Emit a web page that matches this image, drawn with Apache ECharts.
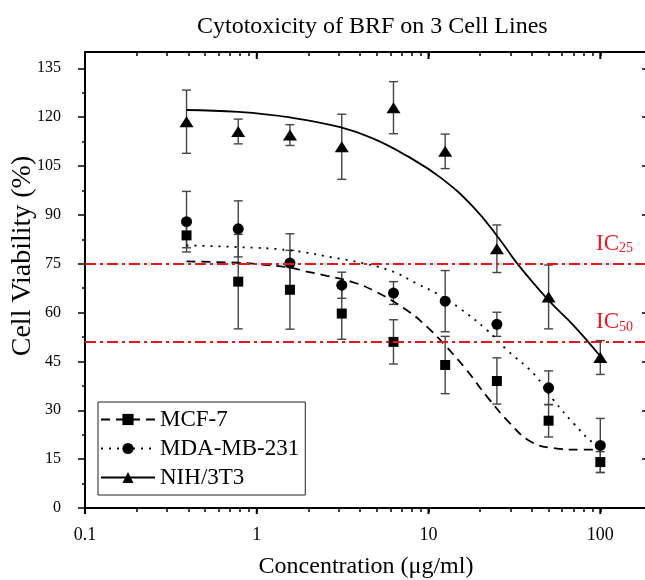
<!DOCTYPE html>
<html>
<head>
<meta charset="utf-8">
<script src="https://cdn.jsdelivr.net/npm/echarts@6/dist/echarts.min.js"></script>
<style>
  html, body { margin: 0; padding: 0; background: #fff; }
  #chart { width: 645px; height: 580px; }
</style>
</head>
<body>
<div id="chart"></div>
<script>
const FONT = "Liberation Serif";

// concentrations (ug/ml)
const CONC = [0.39, 0.78, 1.56, 3.125, 6.25, 12.5, 25, 50, 100];

const MCF7_MEAN = [83.7, 69.5, 67.0, 59.7, 51.0, 43.9, 39.0, 26.8, 14.1];
const MCF7_ERR = [3.8, 14.5, 12.1, 7.9, 6.8, 8.8, 7.1, 5.0, 3.2];
const MDA_MEAN = [87.9, 85.7, 75.2, 68.4, 66.0, 63.5, 56.4, 36.9, 19.2];
const MDA_ERR = [9.3, 8.6, 9.0, 4.0, 3.5, 9.4, 3.7, 5.2, 8.3];
const NIH_MEAN = [118.6, 115.6, 114.5, 110.9, 122.9, 109.5, 79.6, 64.8, 46.2];
const NIH_ERR = [9.7, 3.8, 3.2, 10.0, 8.0, 5.3, 7.3, 9.8, 5.2];

// fitted curves
const MCF7_FIT_X = [0.39, 0.78, 1.04, 1.56, 1.95, 2.56, 3.49, 4.77, 7.48, 9.8, 12.7, 16.7, 21.9, 29.8, 39.3, 53.5, 76.4, 100];
const MCF7_FIT_Y = [75.7, 75.3, 74.8, 73.8, 72.6, 71.3, 69.6, 66.8, 60.7, 55.6, 49.5, 42.3, 34.2, 26.0, 20.4, 18.4, 17.9, 17.9];
const MDA_FIT_X = [0.39, 0.78, 1.56, 3.06, 3.5, 5.97, 8.55, 11.2, 15.3, 21.9, 28.6, 40.8, 53.5, 69.8, 91.2, 100];
const MDA_FIT_Y = [80.6, 80.1, 79.1, 76.5, 76.0, 72.9, 68.9, 65.8, 61.2, 54.6, 48.5, 41.3, 33.1, 26.0, 19.9, 19.1];
const NIH_FIT_X = [0.39, 0.78, 1.56, 3.06, 4.77, 7.48, 11.7, 18.3, 26.1, 32.7, 49.9, 69.8, 100];
const NIH_FIT_Y = [122.2, 121.6, 119.9, 116.9, 113.4, 108.1, 101.5, 92.3, 82.3, 75.2, 63.8, 56.1, 46.6];

const IC_LEVELS = [75, 51];
const IC_LABELS = ["25", "50"];

const X_TICKS = [0.1, 1, 10, 100];
const X_MINOR = [0.2, 0.3, 0.4, 0.5, 0.6, 0.7, 0.8, 0.9, 2, 3, 4, 5, 6, 7, 8, 9, 20, 30, 40, 50, 60, 70, 80, 90];
const Y_TICKS = [0, 15, 30, 45, 60, 75, 90, 105, 120, 135];
const Y_MINOR = [7.5, 22.5, 37.5, 52.5, 67.5, 82.5, 97.5, 112.5, 127.5];

const Y_MIN = 0;
const Y_MAX = 140;

const X_ALL_TICKS = [...X_TICKS, ...X_MINOR].sort((a, b) => a - b);

const zip = (xs, ys) => xs.map((x, i) => [x, ys[i]]);
const zip3 = (xs, ys, es) => xs.map((x, i) => [x, ys[i], es[i]]);

const renderErrorBar = (params, api) => {
  const x = api.value(0);
  const y = api.value(1);
  const e = api.value(2);
  const top = api.coord([x, y + e]);
  const bot = api.coord([x, y - e]);
  const hw = 4.5;
  const style = { stroke: "#444", lineWidth: 1.4 };
  return {
    type: "group",
    children: [
      { type: "line", shape: { x1: top[0], y1: top[1], x2: bot[0], y2: bot[1] }, style },
      { type: "line", shape: { x1: top[0] - hw, y1: top[1], x2: top[0] + hw, y2: top[1] }, style },
      { type: "line", shape: { x1: bot[0] - hw, y1: bot[1], x2: bot[0] + hw, y2: bot[1] }, style },
    ],
  };
};

// lengthen the decade ticks of the log axis (bottom outward, top inward)
const renderMajorTick = (params, api) => {
  const v = api.value(0);
  const bot = api.coord([v, Y_MIN]);
  const top = api.coord([v, Y_MAX]);
  const style = { stroke: "#000", lineWidth: 2 };
  return {
    type: "group",
    children: [
      { type: "line", shape: { x1: bot[0], y1: bot[1], x2: bot[0], y2: bot[1] + 6 }, style },
      { type: "line", shape: { x1: top[0], y1: top[1], x2: top[0], y2: top[1] + 7 }, style },
    ],
  };
};

const GROUPS = [
  { name: "MCF-7", mean: MCF7_MEAN, err: MCF7_ERR, fx: MCF7_FIT_X, fy: MCF7_FIT_Y, symbol: "rect", size: 10, dash: [9, 6] },
  { name: "MDA-MB-231", mean: MDA_MEAN, err: MDA_ERR, fx: MDA_FIT_X, fy: MDA_FIT_Y, symbol: "circle", size: 11, dash: [2, 6] },
  { name: "NIH/3T3", mean: NIH_MEAN, err: NIH_ERR, fx: NIH_FIT_X, fy: NIH_FIT_Y, symbol: "triangle", size: [14, 11], dash: "solid" },
];

const fitSeries = GROUPS.map((g) => ({
  type: "line",
  name: g.name,
  data: zip(g.fx, g.fy),
  smooth: 0.45,
  symbol: g.symbol,
  showSymbol: false,
  color: "#000",
  itemStyle: { color: "#000", opacity: 1 },
  lineStyle: { width: 1.8, type: g.dash, color: "#000" },
  z: 3,
}));

fitSeries[0].markLine = {
  silent: true,
  symbol: "none",
  lineStyle: { color: "#e8161c", width: 2, type: [11, 4, 3, 4] },
  label: {
    position: "insideEndTop",
    distance: [14, 8],
    color: "#f01820",
    fontSize: 23,
    fontFamily: FONT,
    rich: {
      s: { fontSize: 14, color: "#f01820", fontFamily: FONT, verticalAlign: "bottom", padding: [10, 0, 0, 0] },
    },
  },
  data: IC_LEVELS.map((v, i) => ({ yAxis: v, label: { formatter: "IC{s|" + IC_LABELS[i] + "}" } })),
};

const errSeries = GROUPS.map((g) => ({
  type: "custom",
  name: g.name + " err",
  data: zip3(CONC, g.mean, g.err),
  encode: { x: 0, y: 1 },
  renderItem: renderErrorBar,
  z: 2,
}));

const pointSeries = GROUPS.map((g) => ({
  type: "scatter",
  name: g.name,
  data: zip(CONC, g.mean),
  symbol: g.symbol,
  symbolSize: g.size,
  itemStyle: { color: "#000", opacity: 1 },
  z: 4,
}));

const majorTickSeries = {
  type: "custom",
  name: "decade ticks",
  data: X_TICKS.map((v) => [v, Y_MIN]),
  encode: { x: 0, y: 1 },
  renderItem: renderMajorTick,
  clip: false,
  silent: true,
  z: 5,
};

const logAxis = (extra) => ({
  type: "log",
  min: 0.1,
  max: 187,
  splitLine: { show: false },
  minorTick: { show: false },
  ...extra,
});

const valAxis = (extra) => ({
  type: "value",
  min: Y_MIN,
  max: Y_MAX,
  splitLine: { show: false },
  ...extra,
});

const BLACK = { color: "#000", width: 2 };
const THIN = { color: "#000", width: 1.5 };

const chart = echarts.init(document.getElementById("chart"));
chart.setOption({
  animation: false,
  backgroundColor: "#fff",
  textStyle: { fontFamily: FONT, color: "#000" },
  title: {
    text: "Cytotoxicity of BRF on 3 Cell Lines",
    left: 192,
    top: 10,
    textStyle: { fontFamily: FONT, fontSize: 24, fontWeight: "normal", color: "#000" },
  },
  legend: {
    data: GROUPS.map((g) => g.name),
    orient: "vertical",
    left: 98,
    top: 402,
    itemWidth: 54,
    itemHeight: 14,
    itemGap: 6,
    padding: [6, 6, 6, 2],
    borderColor: "#222",
    borderWidth: 1,
    backgroundColor: "#fff",
    textStyle: { fontFamily: FONT, fontSize: 23, color: "#000" },
  },
  grid: { left: 85, right: -2, top: 52, bottom: 72, outerBoundsMode: "none" },
  xAxis: [
    logAxis({
      position: "bottom",
      axisLine: { onZero: false, lineStyle: BLACK },
      axisTick: { customValues: X_ALL_TICKS, length: 4, lineStyle: THIN },
      axisLabel: {
        customValues: X_TICKS,
        fontSize: 18,
        margin: 18,
        color: "#000",
        formatter: (v) => String(+Number(v).toPrecision(3)),
      },
      name: "Concentration (μg/ml)",
      nameLocation: "middle",
      nameGap: 47,
      nameMoveOverlap: false,
      nameTextStyle: { fontFamily: FONT, fontSize: 24, color: "#000" },
    }),
    logAxis({
      position: "top",
      axisLine: { onZero: false, lineStyle: BLACK },
      axisTick: { inside: true, customValues: X_ALL_TICKS, length: 4, lineStyle: THIN },
      axisLabel: { show: false },
    }),
  ],
  yAxis: [
    valAxis({
      position: "left",
      axisLine: { show: true, onZero: false, lineStyle: BLACK },
      axisTick: { show: true, customValues: Y_TICKS, length: 7, lineStyle: THIN },
      axisLabel: { customValues: Y_TICKS, fontSize: 16, margin: 24, color: "#000" },
      name: "Cell Viability (%)",
      nameLocation: "middle",
      nameGap: 48,
      nameMoveOverlap: false,
      nameTextStyle: { fontFamily: FONT, fontSize: 28, color: "#000", padding: [0, 0, 0, 48] },
    }),
    valAxis({
      position: "right",
      axisLine: { show: false, onZero: false },
      axisTick: { show: true, inside: true, customValues: Y_TICKS, length: 5, lineStyle: THIN },
      axisLabel: { show: false },
    }),
    valAxis({
      position: "left",
      axisLine: { show: false, onZero: false },
      axisTick: { show: true, customValues: Y_MINOR, length: 3, lineStyle: THIN },
      axisLabel: { show: false },
    }),
  ],
  series: [...fitSeries, ...pointSeries, ...errSeries, majorTickSeries],
});
</script>
</body>
</html>
